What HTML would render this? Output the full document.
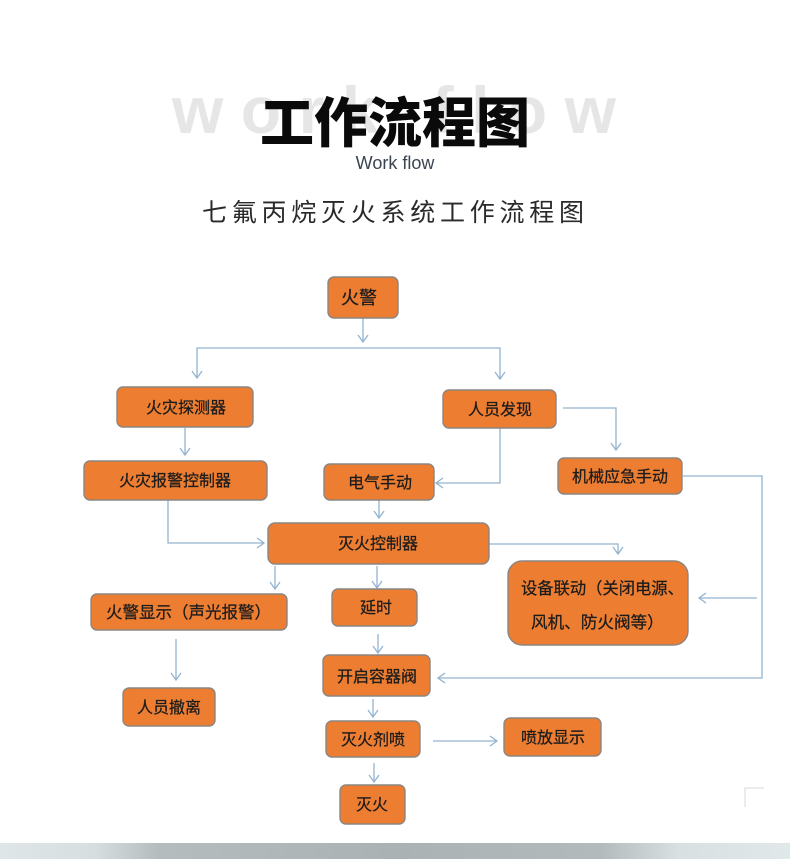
<!DOCTYPE html>
<html>
<head>
<meta charset="utf-8">
<style>
html,body{margin:0;padding:0;background:#fff;}
body{width:790px;height:859px;overflow:hidden;position:relative;}
svg{display:block;}
.bx{fill:#ED7D31;stroke:#8c8580;stroke-width:1.4;}
.t{font-family:"Liberation Sans","Noto Sans CJK SC",sans-serif;font-size:16px;fill:#1c1c1c;stroke:#1c1c1c;stroke-width:0.25;text-anchor:middle;}
.ts{font-family:"Liberation Sans","Noto Sans CJK SC",sans-serif;font-size:16.3px;fill:#1c1c1c;stroke:#1c1c1c;stroke-width:0.25;}
.ln{fill:none;stroke:#93b3cf;stroke-width:1.3;}
</style>
</head>
<body>
<svg width="790" height="859" viewBox="0 0 790 859" xmlns="http://www.w3.org/2000/svg">
  <defs>
    <linearGradient id="bar" x1="0" y1="0" x2="1" y2="0">
      <stop offset="0" stop-color="#dfe6e8"/>
      <stop offset="0.12" stop-color="#d6dee0"/>
      <stop offset="0.2" stop-color="#b4bcbe"/>
      <stop offset="0.5" stop-color="#aab2b4"/>
      <stop offset="0.76" stop-color="#b2babc"/>
      <stop offset="0.86" stop-color="#d8e0e2"/>
      <stop offset="1" stop-color="#e1e8ea"/>
    </linearGradient>
  </defs>

  <!-- Header -->
  <text x="394" y="133" font-family="Liberation Sans, sans-serif" font-weight="bold" font-size="66" fill="#e6e6e6" text-anchor="middle" textLength="444" lengthAdjust="spacing">work flow</text>
  <text x="395" y="142" font-family="Liberation Sans, Noto Sans CJK SC, sans-serif" font-weight="900" font-size="54" fill="#0a0a0a" text-anchor="middle">工作流程图</text>
  <text x="395" y="169" font-family="Liberation Sans, sans-serif" font-size="18" fill="#3b4551" text-anchor="middle">Work flow</text>
  <text x="202" y="221" font-family="Liberation Sans, Noto Sans CJK SC, sans-serif" font-size="25" fill="#2a2a2a" textLength="382" lengthAdjust="spacing">七氟丙烷灭火系统工作流程图</text>

  <!-- Connectors -->
  <g class="ln">
    <path d="M363 318 V342"/><path d="M358 335 L363 342 L368 335"/>
    <path d="M197 378 V348 H500 V379"/>
    <path d="M192 371 L197 378 L202 371"/>
    <path d="M495 372 L500 379 L505 372"/>
    <path d="M185 428 V455"/><path d="M180 448 L185 455 L190 448"/>
    <path d="M168 500 V543 H264"/><path d="M257 538 L264 543 L257 548"/>
    <path d="M563 408 H616 V450"/><path d="M611 443 L616 450 L621 443"/>
    <path d="M500 428 V483 H436"/><path d="M443 478 L436 483 L443 488"/>
    <path d="M379 500 V518"/><path d="M374 511 L379 518 L384 511"/>
    <path d="M683 476 H762 V678 H438"/><path d="M445 673 L438 678 L445 683"/>
    <path d="M757 598 H699"/><path d="M706 593 L699 598 L706 603"/>
    <path d="M489 544 H618 V554"/><path d="M613 547 L618 554 L623 547"/>
    <path d="M275 566 V589"/><path d="M270 582 L275 589 L280 582"/>
    <path d="M377 566 V588"/><path d="M372 581 L377 588 L382 581"/>
    <path d="M176 639 V680"/><path d="M171 673 L176 680 L181 673"/>
    <path d="M378 634 V653"/><path d="M373 646 L378 653 L383 646"/>
    <path d="M373 699 V717"/><path d="M368 710 L373 717 L378 710"/>
    <path d="M433 741 H497"/><path d="M490 736 L497 741 L490 746"/>
    <path d="M374 763 V782"/><path d="M369 775 L374 782 L379 775"/>
  </g>

  <!-- Boxes -->
  <rect class="bx" x="328" y="277" width="70" height="41" rx="6"/>
  <text class="t" x="359" y="304" style="font-size:18px">火警</text>

  <rect class="bx" x="117" y="387" width="136" height="40" rx="6"/>
  <text class="t" x="186" y="413">火灾探测器</text>

  <rect class="bx" x="443" y="390" width="113" height="38" rx="6"/>
  <text class="t" x="500" y="415">人员发现</text>

  <rect class="bx" x="84" y="461" width="183" height="39" rx="6"/>
  <text class="t" x="175" y="486">火灾报警控制器</text>

  <rect class="bx" x="324" y="464" width="110" height="36" rx="6"/>
  <text class="t" x="380" y="488">电气手动</text>

  <rect class="bx" x="558" y="458" width="124" height="36" rx="6"/>
  <text class="t" x="620" y="482">机械应急手动</text>

  <rect class="bx" x="268" y="523" width="221" height="41" rx="7"/>
  <text class="t" x="378" y="549">灭火控制器</text>

  <rect class="bx" x="508" y="561" width="180" height="84" rx="14"/>
  <text class="ts" x="521" y="594">设备联动（关闭电源、</text>
  <text class="ts" x="531" y="628" style="font-size:16.6px">风机、防火阀等）</text>

  <rect class="bx" x="91" y="594" width="196" height="36" rx="6"/>
  <text class="ts" x="106" y="618" style="font-size:16.5px">火警显示（声光报警）</text>

  <rect class="bx" x="332" y="589" width="85" height="37" rx="6"/>
  <text class="t" x="376" y="613">延时</text>

  <rect class="bx" x="323" y="655" width="107" height="41" rx="6"/>
  <text class="t" x="377" y="682">开启容器阀</text>

  <rect class="bx" x="123" y="688" width="92" height="38" rx="6"/>
  <text class="t" x="169" y="713">人员撤离</text>

  <rect class="bx" x="326" y="721" width="94" height="36" rx="6"/>
  <text class="t" x="373" y="745">灭火剂喷</text>

  <rect class="bx" x="504" y="718" width="97" height="38" rx="6"/>
  <text class="t" x="553" y="743">喷放显示</text>

  <rect class="bx" x="340" y="785" width="65" height="39" rx="6"/>
  <text class="t" x="372" y="810">灭火</text>

  <!-- faint corner mark -->
  <path d="M745 807 V788 H764" fill="none" stroke="#d9d9d9" stroke-width="1"/>

  <!-- Bottom bar -->
  <rect x="0" y="843" width="790" height="16" fill="url(#bar)"/>
</svg>
</body>
</html>
